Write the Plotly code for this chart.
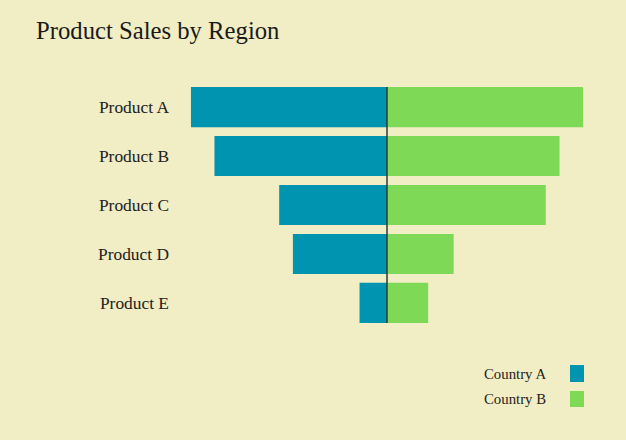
import plotly.graph_objects as go

products = ["Product A", "Product B", "Product C", "Product D", "Product E"]
country_a = [100, 88, 55, 48, 14]
country_b = [100, 88, 81, 34, 21]
series_names = ["Country A", "Country B"]
colors = ["#0094B1", "#7ED957"]

BG = "#F1EDC4"
FONT = "Liberation Serif, Georgia, serif"

fig = go.Figure()
fig.add_trace(go.Bar(
    y=products, x=[-v for v in country_a], orientation="h",
    name=series_names[0], marker=dict(color=colors[0], line=dict(width=0)),
    customdata=country_a, hovertemplate="%{y}: %{customdata}<extra>Country A</extra>",
))
fig.add_trace(go.Bar(
    y=products, x=country_b, orientation="h",
    name=series_names[1], marker=dict(color=colors[1], line=dict(width=0)),
    hovertemplate="%{y}: %{x}<extra>Country B</extra>",
))

half = (1 - 0.18) / 2
fig.update_layout(
    width=626, height=440,
    barmode="relative", bargap=0.18,
    paper_bgcolor=BG, plot_bgcolor=BG,
    margin=dict(l=179, r=31, t=87, b=117),
    showlegend=False,
    title=dict(text="Product Sales by Region", x=36/626, xanchor="left",
               y=1 - 30/440, yanchor="middle",
               font=dict(family=FONT, size=24.7, color="#1a1a1a")),
    font=dict(family=FONT, color="#222222"),
    xaxis=dict(range=[-106.1, 106.1], showticklabels=False, showgrid=False,
               zeroline=False, fixedrange=True),
    yaxis=dict(range=[len(products) - 1 + half, -half], showgrid=False,
               tickfont=dict(size=17.4, color="#222222"), ticks="",
               ticklabelstandoff=9, fixedrange=True),
)

# center divider line drawn above the bars
fig.add_shape(type="line", xref="x", yref="paper", x0=0, x1=0, y0=0, y1=1,
              line=dict(color="#2B3A3A", width=1.5), layer="above")

# Legend drawn to the right of its labels (swatches on the right side)
px0, pw, py1, ph = 179, 416, 323, 236
def px(x):
    return (x - px0) / pw
def py(y):
    return (py1 - y) / ph

leg_rows = [(374, 365, 382), (399, 391, 407)]
for name, col, (cy, y0, y1) in zip(series_names, colors, leg_rows):
    fig.add_shape(type="rect", xref="paper", yref="paper",
                  x0=px(570), x1=px(584), y0=py(y1), y1=py(y0),
                  fillcolor=col, line=dict(width=0))
    fig.add_annotation(text=name, xref="paper", yref="paper",
                       x=px(548), y=py(cy), xanchor="right", yanchor="middle",
                       showarrow=False, font=dict(family=FONT, size=14.8, color="#222222"))

fig.write_html("out.html")
